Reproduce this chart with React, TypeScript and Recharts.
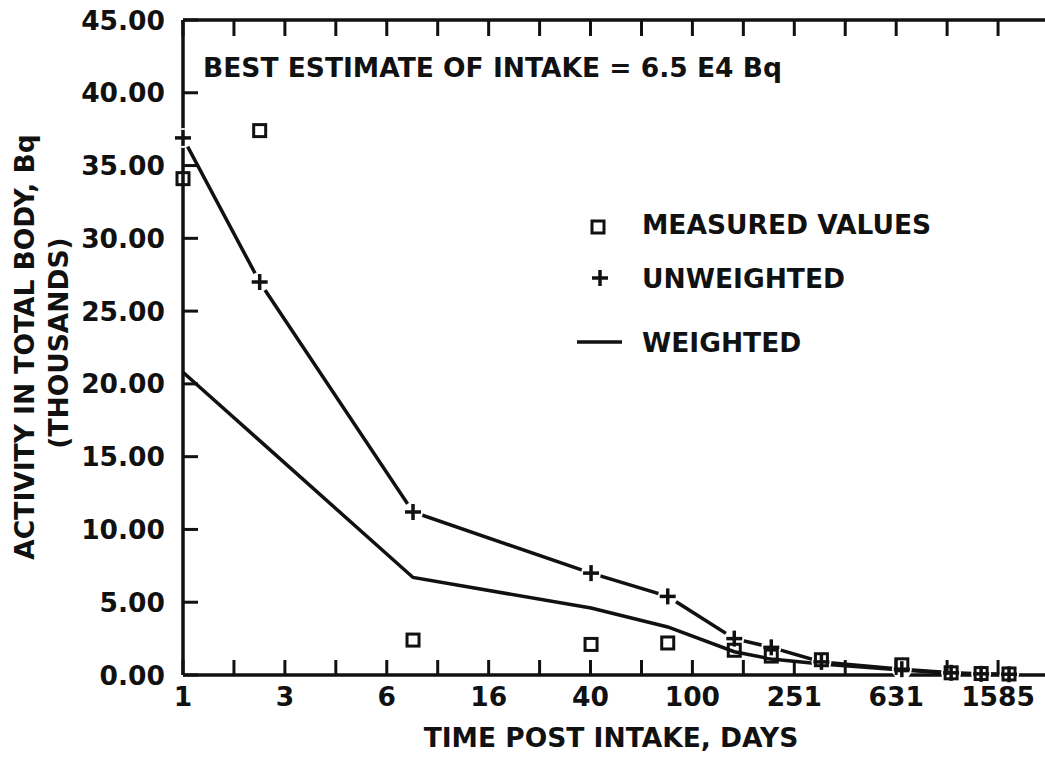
import { LineChart, Line, XAxis, YAxis, Legend } from 'recharts';

// days after intake (log axis) and activity in thousands of Bq
const days = [1, 2, 8, 40, 80, 146, 204, 321, 664, 1037, 1360, 1750];
const measured = [34.1, 37.4, 2.4, 2.1, 2.2, 1.7, 1.3, 1.05, 0.7, 0.15, 0.1, 0.07];
const unweighted = [36.9, 27.0, 11.2, 7.0, 5.4, 2.5, 1.9, 0.9, 0.4, 0.15, 0.08, 0.05];
const weighted = [20.8, 16.1, 6.7, 4.6, 3.3, 1.6, 1.1, 0.75, 0.35, 0.12, 0.06, 0.04];

const majorTicks = [1, 2.512, 6.31, 15.85, 39.81, 100, 251.2, 631, 1585];
const majorLabels = ['1', '3', '6', '16', '40', '100', '251', '631', '1585'];
const minorTicks = [1.585, 3.981, 10, 25.12, 63.1, 158.5, 398.1, 1000];
const yTicks = [0, 5, 10, 15, 20, 25, 30, 35, 40, 45];

const INK = '#111';
const FONT = '"DejaVu Sans", sans-serif';
const FS = 26.5;

const data = days.map((day, i) => ({
  day,
  measured: measured[i],
  unweighted: unweighted[i],
  weighted: weighted[i],
}));

const xTicks = [...majorTicks, ...minorTicks].sort((a, b) => a - b);

const textProps = { fontFamily: FONT, fontWeight: 700, fontSize: FS, fill: INK };

function BottomTick({ x, y, payload }: any) {
  const idx = majorTicks.indexOf(payload.value);
  return (
    <g>
      <line x1={x} x2={x} y1={y} y2={y - 15} stroke={INK} strokeWidth={3} />
      {idx >= 0 && (
        <text x={x} y={y + 31} textAnchor="middle" {...textProps}>
          {majorLabels[idx]}
        </text>
      )}
    </g>
  );
}

function TopTick({ x, y }: any) {
  return <line x1={x} x2={x} y1={y} y2={y + 16} stroke={INK} strokeWidth={3} />;
}

function LeftTick({ x, y, payload }: any) {
  return (
    <g>
      <line x1={x} x2={x + 15} y1={y} y2={y} stroke={INK} strokeWidth={3} />
      <text x={x - 18} y={y + 9.5} textAnchor="end" {...textProps}>
        {Number(payload.value).toFixed(2)}
      </text>
    </g>
  );
}

function RightTick({ x, y }: any) {
  return <line x1={x} x2={x - 15} y1={y} y2={y} stroke={INK} strokeWidth={3} />;
}

function SquareDot({ cx, cy, index }: any) {
  return (
    <rect key={`sq-${index}`} x={cx - 6} y={cy - 6} width={12} height={12}
      fill="none" stroke={INK} strokeWidth={3} />
  );
}

function PlusDot({ cx, cy, index }: any) {
  return (
    <g key={`pl-${index}`}>
      <circle cx={cx} cy={cy} r={10} fill="#fff" />
      <line x1={cx - 8} x2={cx + 8} y1={cy} y2={cy} stroke={INK} strokeWidth={3.5} />
      <line x1={cx} x2={cx} y1={cy - 8} y2={cy + 8} stroke={INK} strokeWidth={3.5} />
    </g>
  );
}

function LegendBox() {
  return (
    <svg width={380} height={165}>
      <rect x={22} y={21} width={12} height={12} fill="none" stroke={INK} strokeWidth={3} />
      <text x={72} y={34} {...textProps}>MEASURED VALUES</text>
      <line x1={22} x2={38} y1={78} y2={78} stroke={INK} strokeWidth={3.5} />
      <line x1={30} x2={30} y1={70} y2={86} stroke={INK} strokeWidth={3.5} />
      <text x={72} y={88} {...textProps}>UNWEIGHTED</text>
      <line x1={7} x2={52} y1={142} y2={142} stroke={INK} strokeWidth={3.5} />
      <text x={72} y={152} {...textProps}>WEIGHTED</text>
    </svg>
  );
}

export default function App() {
  return (
    <div style={{ position: 'absolute', left: 0, top: 0, width: 1045, height: 757, overflow: 'hidden', background: '#fff' }}>
      <LineChart width={1060} height={757} data={data} margin={{ top: 19, right: 10, bottom: 0, left: 0 }}>
        <XAxis
          xAxisId="bottom"
          dataKey="day"
          type="number"
          scale="log"
          domain={[1, 2512]}
          ticks={xTicks}
          interval={0}
          height={82}
          tickSize={0}
          tickMargin={0}
          tickLine={false}
          tick={<BottomTick />}
          axisLine={{ stroke: INK, strokeWidth: 3.5 }}
        />
        <XAxis
          xAxisId="top"
          orientation="top"
          dataKey="day"
          type="number"
          scale="log"
          domain={[1, 2512]}
          ticks={xTicks}
          interval={0}
          height={1}
          tickSize={0}
          tickMargin={0}
          tickLine={false}
          tick={<TopTick />}
          axisLine={{ stroke: INK, strokeWidth: 3.5 }}
        />
        <YAxis
          yAxisId="left"
          type="number"
          domain={[0, 45]}
          ticks={yTicks}
          interval={0}
          width={183}
          tickSize={0}
          tickMargin={0}
          tickLine={false}
          tick={<LeftTick />}
          axisLine={{ stroke: INK, strokeWidth: 3.5 }}
        />
        <YAxis
          yAxisId="right"
          orientation="right"
          type="number"
          domain={[0, 45]}
          ticks={yTicks}
          interval={0}
          width={1}
          tickSize={0}
          tickMargin={0}
          tickLine={false}
          tick={<RightTick />}
          axisLine={{ stroke: INK, strokeWidth: 3.5 }}
        />
        <Legend
          layout="horizontal"
          verticalAlign="middle"
          align="center"
          content={<LegendBox />}
          wrapperStyle={{ left: 570, top: 200, width: 380, height: 165 }}
        />
        <Line
          xAxisId="bottom"
          yAxisId="left"
          dataKey="unweighted"
          name="UNWEIGHTED"
          type="linear"
          stroke={INK}
          strokeWidth={3.5}
          dot={PlusDot}
          activeDot={false}
          isAnimationActive={false}
        />
        <Line
          xAxisId="bottom"
          yAxisId="left"
          dataKey="weighted"
          name="WEIGHTED"
          type="linear"
          stroke={INK}
          strokeWidth={3.5}
          dot={false}
          activeDot={false}
          isAnimationActive={false}
        />
        <Line
          xAxisId="bottom"
          yAxisId="left"
          dataKey="measured"
          name="MEASURED VALUES"
          type="linear"
          stroke="none"
          dot={SquareDot}
          activeDot={false}
          isAnimationActive={false}
        />
        <text x={203} y={77} {...textProps}>BEST ESTIMATE OF INTAKE = 6.5 E4 Bq</text>
        <text x={611} y={747} textAnchor="middle" {...textProps}>TIME POST INTAKE, DAYS</text>
        <text x={34} y={347} textAnchor="middle" transform="rotate(-90, 34, 347)" {...textProps}>
          ACTIVITY IN TOTAL BODY, Bq
        </text>
        <text x={68} y={343} textAnchor="middle" transform="rotate(-90, 68, 343)" {...textProps}>
          (THOUSANDS)
        </text>
      </LineChart>
    </div>
  );
}
